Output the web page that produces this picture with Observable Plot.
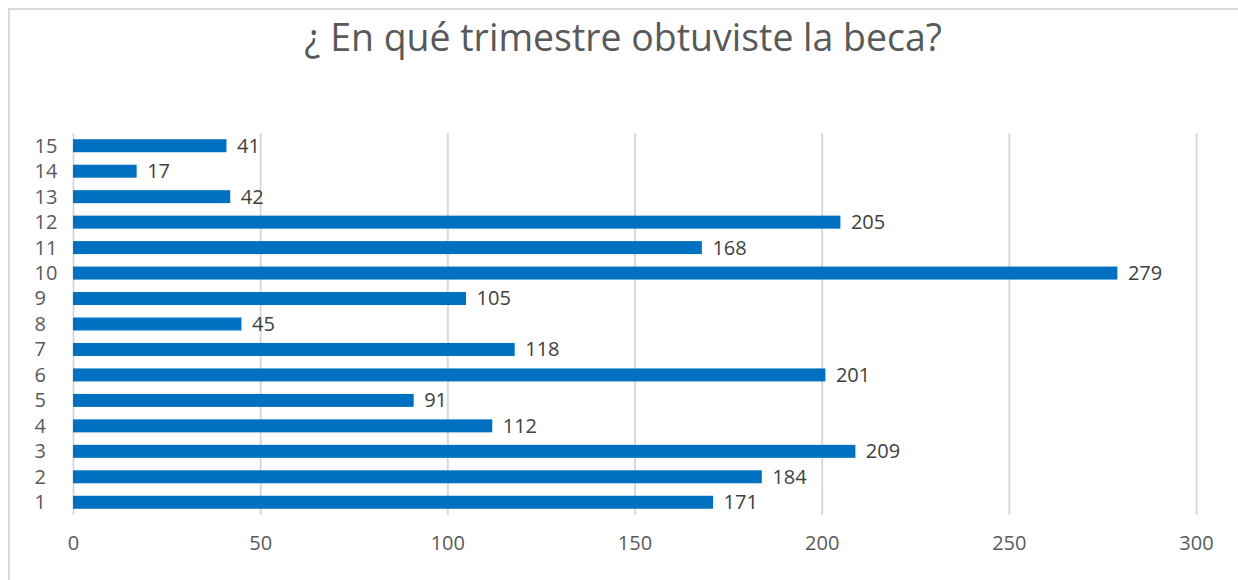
<!DOCTYPE html>
<html>
<head>
<meta charset="utf-8">
<script src="https://cdn.jsdelivr.net/npm/d3@7"></script>
<script src="https://cdn.jsdelivr.net/npm/@observablehq/plot@0.6"></script>
<style>
  html, body { margin: 0; padding: 0; background: #fff; width: 1238px; height: 580px; overflow: hidden; }
  #frame { position: absolute; left: 8px; top: 8px; width: 1260px; height: 620px; border: 2px solid #d9d9d9; box-sizing: border-box; }
  #title { position: absolute; left: 0; top: 0; width: 1246px; height: 100px; text-align: center; font-family: "Open Sans", sans-serif; font-size: 39px; color: #595959; line-height: 1; padding-top: 16px; box-sizing: border-box; }
  #title span { display: inline-block; transform: scaleX(0.96); transform-origin: center; }
  #chart { position: absolute; left: 0; top: 100px; }
</style>
</head>
<body>
<div id="frame"></div>
<div id="title"><span>¿ En qué trimestre obtuviste la beca?</span></div>
<div id="chart"></div>
<script>
const categories = ["1","2","3","4","5","6","7","8","9","10","11","12","13","14","15"];
const values = [171,184,209,112,91,201,118,45,105,279,168,205,42,17,41];
const xTicks = [0,50,100,150,200,250,300];

const data = categories.map((c, i) => ({cat: c, value: values[i]}));

const chart = Plot.plot({
  width: 1238,
  height: 480,
  marginTop: 33,
  marginBottom: 65,
  marginLeft: 73,
  marginRight: 42,
  style: {fontFamily: "Open Sans, sans-serif", fontSize: "20px", color: "#595959", background: "transparent"},
  x: {domain: [0, 300], ticks: xTicks, label: null},
  y: {domain: categories.slice().reverse(), paddingInner: 0.49, paddingOuter: 0.245, round: false, label: null},
  marks: [
    Plot.gridX(xTicks, {stroke: "#d9d9d9", strokeOpacity: 1, strokeWidth: 2}),
    Plot.barX(data, {x: "value", y: "cat", fill: "#0070C0"}),
    Plot.text(data, {x: "value", y: "cat", text: d => String(d.value), textAnchor: "start", dx: 10, fill: "#404040", fontSize: 20}),
    Plot.axisX(xTicks, {tickSize: 0, tickPadding: 20, fill: "#595959", fontSize: 20, label: null}),
    Plot.axisY({tickSize: 0, tickPadding: 39, textAnchor: "start", fill: "#595959", fontSize: 20, label: null})
  ]
});
document.getElementById("chart").appendChild(chart);
</script>
</body>
</html>
